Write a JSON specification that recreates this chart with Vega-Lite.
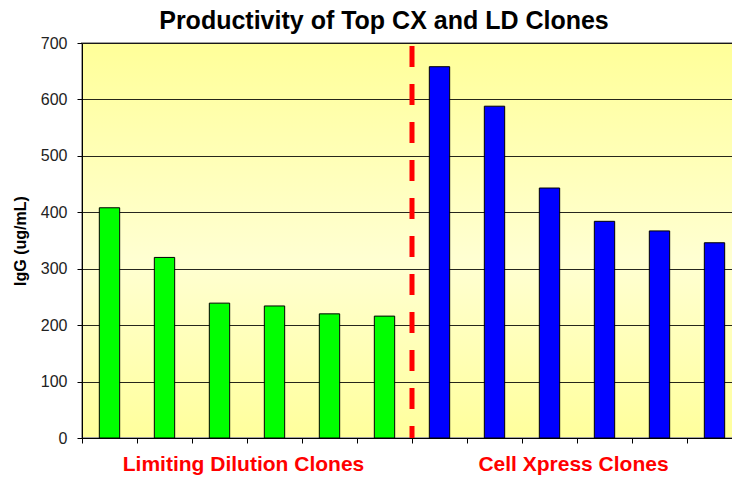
{
  "$schema": "https://vega.github.io/schema/vega-lite/v6.json",
  "autosize": "none",
  "width": 660,
  "height": 395,
  "padding": {"left": 82, "top": 43, "right": 0, "bottom": 39},
  "background": "white",
  "title": {
    "text": "Productivity of Top CX and LD Clones",
    "font": "Liberation Sans",
    "fontSize": 25,
    "fontWeight": "bold",
    "color": "black",
    "anchor": "middle",
    "dx": -28,
    "offset": 1
  },
  "config": {
    "view": {
      "stroke": "#a0a0a0",
      "strokeWidth": 2,
      "fill": {
        "gradient": "linear",
        "x1": 0, "y1": 0, "x2": 0, "y2": 1,
        "stops": [
          {"offset": 0, "color": "#FFFF99"},
          {"offset": 0.55, "color": "#FFFFD2"},
          {"offset": 1, "color": "#FFFF9C"}
        ]
      }
    },
    "axis": {
      "labelFont": "Liberation Sans",
      "titleFont": "Liberation Sans"
    }
  },
  "data": {
    "values": [
      {"clone": "LD1", "group": "LD", "igg": 408},
      {"clone": "LD2", "group": "LD", "igg": 320},
      {"clone": "LD3", "group": "LD", "igg": 239},
      {"clone": "LD4", "group": "LD", "igg": 234},
      {"clone": "LD5", "group": "LD", "igg": 220},
      {"clone": "LD6", "group": "LD", "igg": 216},
      {"clone": "CX1", "group": "CX", "igg": 658},
      {"clone": "CX2", "group": "CX", "igg": 588},
      {"clone": "CX3", "group": "CX", "igg": 443},
      {"clone": "CX4", "group": "CX", "igg": 384},
      {"clone": "CX5", "group": "CX", "igg": 367},
      {"clone": "CX6", "group": "CX", "igg": 346}
    ]
  },
  "layer": [
    {
      "mark": {"type": "bar", "width": {"band": 0.37}, "stroke": "black", "strokeWidth": 1},
      "encoding": {
        "x": {
          "field": "clone",
          "type": "nominal",
          "scale": {
            "domain": ["LD1", "LD2", "LD3", "LD4", "LD5", "LD6", "CX1", "CX2", "CX3", "CX4", "CX5", "CX6"],
            "paddingInner": 0,
            "paddingOuter": 0
          },
          "axis": {
            "title": null,
            "bandPosition": 0,
            "domainColor": "black",
            "tickColor": "black",
            "tickSize": 5,
            "labelAngle": 0,
            "labelOverlap": false,
            "labelLimit": 500,
            "labelExpr": "datum.value == 'LD4' ? 'Limiting Dilution Clones' : datum.value == 'CX4' ? 'Cell Xpress Clones' : ''",
            "labelColor": "#ff0000",
            "labelFontSize": 21,
            "labelFontWeight": "bold",
            "labelPadding": 10,
            "labelOffset": -31
          }
        },
        "y": {
          "field": "igg",
          "type": "quantitative",
          "scale": {"domain": [0, 700]},
          "axis": {
            "title": "IgG (ug/mL)",
            "titleFontSize": 16,
            "titleFontWeight": "bold",
            "titleColor": "black",
            "titlePadding": 12,
            "values": [0, 100, 200, 300, 400, 500, 600, 700],
            "grid": true,
            "gridColor": "black",
            "gridOpacity": 0.85,
            "gridWidth": 1,
            "domainColor": "black",
            "tickColor": "black",
            "tickSize": 5,
            "labelFontSize": 16,
            "labelColor": "#222222",
            "labelPadding": 10
          }
        },
        "color": {
          "field": "group",
          "type": "nominal",
          "scale": {"domain": ["LD", "CX"], "range": ["#00FF00", "#0000FF"]},
          "legend": null
        }
      }
    },
    {
      "data": {"values": [{"clone": "CX1"}]},
      "mark": {"type": "rule", "color": "#ff0000", "strokeWidth": 5, "strokeDash": [21, 17], "strokeDashOffset": -3},
      "encoding": {
        "x": {"field": "clone", "type": "nominal", "bandPosition": 0}
      }
    }
  ]
}
